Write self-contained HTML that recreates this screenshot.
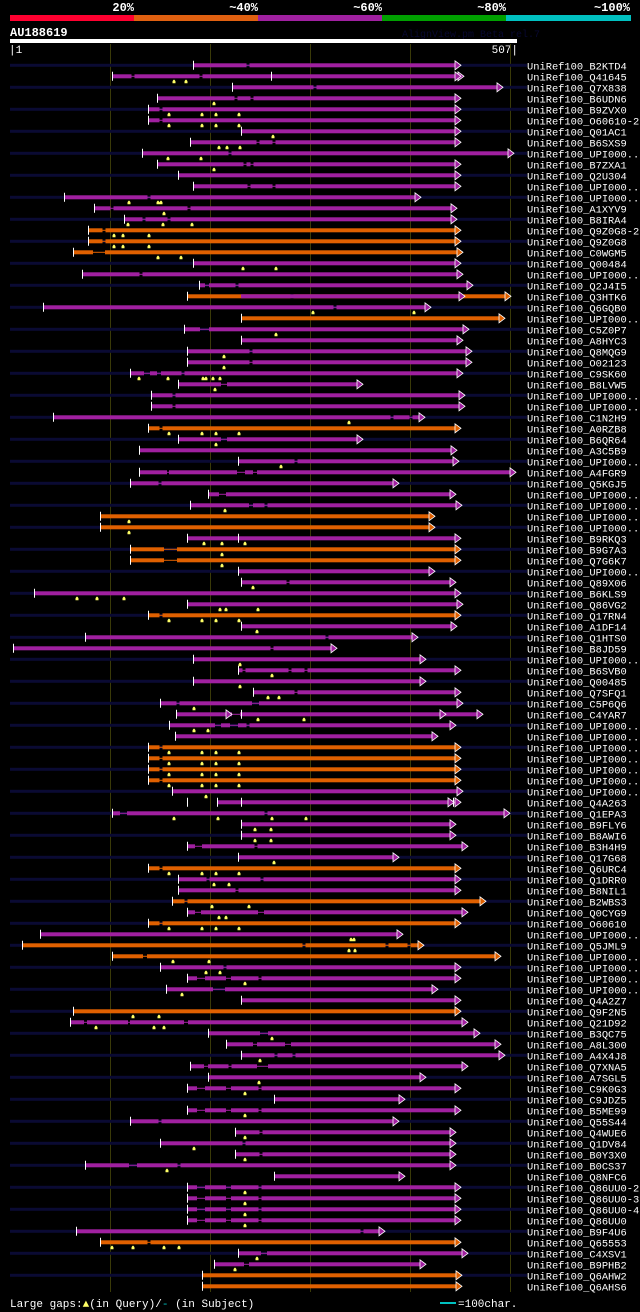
<!DOCTYPE html>
<html><head><meta charset="utf-8"><style>
html,body{margin:0;padding:0;background:#000;}
svg{display:block;}
text{font-family:"Liberation Mono","DejaVu Sans Mono",monospace;}
</style></head><body>
<svg id="chart" width="640" height="1312" viewBox="0 0 640 1312">
  <g>
    <rect x="10" y="15" width="124" height="6" fill="#ff0030"/>
    <rect x="134" y="15" width="124" height="6" fill="#e06010"/>
    <rect x="258" y="15" width="124" height="6" fill="#a020a0"/>
    <rect x="382" y="15" width="124" height="6" fill="#00a000"/>
    <rect x="506" y="15" width="125" height="6" fill="#00c0c0"/>
    <text x="134" y="11" fill="#fff" font-size="12" font-weight="bold" text-anchor="end">20%</text>
    <text x="258" y="11" fill="#fff" font-size="12" font-weight="bold" text-anchor="end">~40%</text>
    <text x="382" y="11" fill="#fff" font-size="12" font-weight="bold" text-anchor="end">~60%</text>
    <text x="506" y="11" fill="#fff" font-size="12" font-weight="bold" text-anchor="end">~80%</text>
    <text x="630" y="11" fill="#fff" font-size="12" font-weight="bold" text-anchor="end">~100%</text>
  </g>
  <text x="10" y="36" fill="#fff" font-size="12" font-weight="bold">AU188619</text>
  <text x="402" y="37" fill="#080830" font-size="10">AlignView.pm Beta rel.7</text>
  <rect x="10" y="39" width="507" height="4" fill="#fff"/>
  <text x="9" y="53" fill="#fff" font-size="11">|1</text>
  <text x="518" y="53" fill="#fff" font-size="11" text-anchor="end">507|</text>
  <g id="grid"></g>
  <g id="rows"></g>
  <text x="10" y="1307" fill="#fff" font-size="11">Large gaps:<tspan fill="#ffff66">▲</tspan>(in Query)/<tspan fill="#00c0c0">-</tspan> (in Subject)</text>
  <rect x="440" y="1302" width="16" height="2" fill="#00c0c0"/>
  <text x="458" y="1307" fill="#fff" font-size="11">=100char.</text>
</svg>
<script>
const names=["B2KTD4","Q41645","Q7X838","B6UDN6","B9ZVX0","O60610-2","Q01AC1","B6SXS9","UPI000..","B7ZXA1","Q2U304","UPI000..","UPI000..","A1XYV9","B8IRA4","Q9Z0G8-2","Q9Z0G8","C0WGM5","Q00484","UPI000..","Q2J4I5","Q3HTK6","Q6GQB0","UPI000..","C5Z0P7","A8HYC3","Q8MQG9","O02123","C9SK60","B8LVW5","UPI000..","UPI000..","C1N2H9","A0RZB8","B6QR64","A3C5B9","UPI000..","A4FGR9","Q5KGJ5","UPI000..","UPI000..","UPI000..","UPI000..","B9RKQ3","B9G7A3","Q7G6K7","UPI000..","Q89X06","B6KLS9","Q86VG2","Q17RN4","A1DF14","Q1HTS0","B8JD59","UPI000..","B6SVB0","Q00485","Q7SFQ1","C5P6Q6","C4YAR7","UPI000..","UPI000..","UPI000..","UPI000..","UPI000..","UPI000..","UPI000..","Q4A263","Q1EPA3","B9FLY6","B8AWI6","B3H4H9","Q17G68","Q6URC4","Q1DRR0","B8NIL1","B2WBS3","Q0CYG9","O60610","UPI000..","Q5JML9","UPI000..","UPI000..","UPI000..","UPI000..","Q4A2Z7","Q9F2N5","Q21D92","B3QC75","A8L300","A4X4J8","Q7XNA5","A7SGL5","C9K0G3","C9JDZ5","B5ME99","Q55S44","Q4WUE6","Q1DV84","B0Y3X0","B0CS37","Q8NFC6","Q86UU0-2","Q86UU0-3","Q86UU0-4","Q86UU0","B9F4U6","Q65553","C4XSV1","B9PHB2","Q6AHW2","Q6AHS6"];
const starts=[183,102,222,147,138,138,231,180,132,147,168,183,54,84,114,78,78,63,183,72,189,177,33,231,174,231,177,177,120,168,141,141,43,138,168,129,228,129,120,198,180,90,90,177,120,120,228,231,24,177,138,231,75,3,183,228,183,243,150,166,159,165,138,138,138,138,162,207,102,231,231,177,228,138,168,168,162,177,138,30,12,102,150,177,156,231,63,60,198,216,231,180,198,177,264,177,120,225,150,225,75,264,177,177,177,177,66,90,228,204,192,192];
const ends=[450,450,492,450,450,450,450,450,503,450,450,450,410,446,446,450,450,452,450,452,462,500,420,494,458,452,461,461,452,352,454,454,414,450,352,446,448,505,388,445,451,424,424,450,450,450,424,445,450,452,450,446,407,326,415,450,415,450,452,472,445,427,450,450,450,450,452,450,499,445,445,457,388,450,450,450,475,457,450,392,413,490,450,450,427,450,450,457,469,490,494,457,415,450,394,450,388,445,445,445,445,394,450,450,450,450,374,450,457,415,451,451];
const orangeRows=[16,17,18,22,24,34,42,43,45,46,51,63,64,65,66,74,77,79,81,82,87,108,111,112];
const breaks=[[[238,238]],[[123,123],[191,191]],[[305,305]],[[226,226],[242,242]],[[151,151]],[[151,151]],[],[[248,248],[264,264]],[[220,220]],[[235,235],[242,242]],[],[[239,239],[264,264]],[[139,139]],[[102,102],[179,179]],[[134,134],[159,159]],[[94,94]],[[94,94]],[[83,95]],[],[[131,131]],[[195,199],[227,227]],[[282,282]],[[325,325]],[],[[190,199]],[],[[241,241]],[[241,241]],[[134,140],[147,151],[173,173]],[[211,217]],[[164,164]],[[164,164]],[[382,382],[401,401]],[[151,151]],[[211,217]],[],[[286,286]],[[157,159],[227,235],[243,247]],[[150,150]],[[209,216]],[[239,243],[256,256]],[],[],[],[[154,167]],[[154,167]],[],[[278,278]],[],[],[[151,151]],[],[[317,317]],[[262,262]],[],[[234,234],[280,280],[296,296]],[],[[286,286]],[[168,168],[242,249]],[[222,230]],[[205,211],[220,228],[238,238]],[],[[151,151]],[[151,151]],[[151,151]],[[151,151]],[],[],[[110,117],[256,256]],[],[],[[185,192],[246,246]],[],[[151,151]],[[198,198],[252,252]],[[227,227]],[[176,176]],[[185,191],[248,254]],[[151,151]],[],[[294,294],[377,377],[399,399]],[[133,137]],[[215,215]],[[187,195],[216,221],[250,250]],[[203,215]],[],[],[[74,77],[118,120],[174,178]],[[250,258]],[[243,247],[275,281]],[[266,266],[284,284]],[[194,198],[220,220],[247,258]],[],[[187,195],[216,221],[250,250]],[],[[187,195],[216,221],[250,250]],[[150,150]],[[251,251]],[[234,234]],[[251,251]],[[119,127],[169,169]],[],[[187,195],[216,221],[250,250]],[[187,195],[216,221],[250,250]],[[187,195],[216,221],[250,250]],[[187,195],[216,221],[250,250]],[[352,352]],[[139,139]],[[251,257]],[[234,239]],[],[]];
const markers=[[],[164,176],[],[204],[159,192,206,229],[159,192,206,229],[263],[209,217,230],[158,191],[204],[],[],[119,148,151],[154],[118,153,182],[104,113,139],[104,113,139],[148,171],[233,266],[],[],[],[303,404],[],[266],[],[214],[214],[129,158,193,196,203,210],[205],[],[],[339],[159,192,206,229],[206],[],[271],[],[],[],[215],[119],[119],[194,212,235],[212],[212],[],[243],[67,87,114],[210,216,248],[159,192,206,229],[247],[],[],[230],[262],[230],[258,269],[184],[248,294],[184,198],[],[159,192,206,229],[159,192,206,229],[159,192,206,229],[159,192,206,229],[196],[],[164,208,262,296],[245,261],[245,261],[],[264],[159,192,206,229],[204,219],[],[202,239],[209,216],[159,192,206,229],[341,344],[339,345],[163,199],[196,210],[235],[172],[],[123,149],[86,144,154],[262],[],[250],[],[249],[235],[],[235],[],[235],[184],[235],[157],[],[235],[235],[235],[235],[],[102,123,154,169],[247],[225],[],[]];
const extraTicks={1:[261],43:[228],59:[231],67:[177,231,443]};
const extraArrows={1:[453],59:[221,435],67:[443]};
const innerSeg={21:[231,450]};
const gridTicks=[100,200,300,400,500];

const NS="http://www.w3.org/2000/svg";
const X0=10, Y0=65.3, DY=11;
function xs(p){return X0+p;}
function ys(i){return Y0+i*DY;}
const COL={m:"#a020a0",o:"#e06000"};
function mk(tag,attrs,parent){const e=document.createElementNS(NS,tag);for(const k in attrs)e.setAttribute(k,attrs[k]);parent.appendChild(e);return e;}

const grid=document.getElementById("grid");
gridTicks.forEach(t=>{
  const l=mk("line",{x1:xs(t)+0.5,x2:xs(t)+0.5,y1:44,y2:1292,stroke:"#3a3a08","stroke-width":1},grid);
  
  
});

const rows=document.getElementById("rows");
function arrow(g,x,y,c){
  const a=mk("polygon",{points:`${x-5},${y-4.5} ${x+1},${y} ${x-5},${y+4.5}`,fill:c,stroke:"#fff","stroke-width":0.8},g);
  
  
}
names.forEach((nm,i)=>{
  const y=ys(i);
  const g=mk("g",{},rows);
  
  
  if(i%2===0){
    const t=mk("rect",{x:10,y:y-1.5,width:517,height:3,fill:"#0a0a33"},g);
    
    
  }
  const c=orangeRows.includes(i+1)?COL.o:COL.m;
  const s=starts[i], e=ends[i];
  let segs=[], cur=s;
  const br=breaks[i].map(b=>b[0]===b[1]?[b[0]-1.5,b[0]+1.5]:b);
  br.forEach(b=>{segs.push([cur,b[0]]);
    const th=mk("rect",{x:xs(b[0]),y:y-0.5,width:b[1]-b[0],height:1,fill:c},g);
    
    
    cur=b[1];});
  segs.push([cur,e-4]);
  segs.forEach(sg=>{
    if(sg[1]<=sg[0])return;
    const r=mk("rect",{x:xs(sg[0]),y:y-2,width:sg[1]-sg[0],height:4,fill:c},g);
    
    
  });
  if(innerSeg[i]){
    const r=mk("rect",{x:xs(innerSeg[i][0]),y:y-2,width:innerSeg[i][1]-innerSeg[i][0],height:4,fill:COL.m},g);
    
    
    arrow(g,xs(innerSeg[i][1]+4),y,COL.m);
  }
  const tk=mk("line",{x1:xs(s)+0.5,x2:xs(s)+0.5,y1:y-4.5,y2:y+4.5,stroke:"#fff","stroke-width":1},g);
  
  
  (extraTicks[i]||[]).forEach(p=>{
    const t2=mk("line",{x1:xs(p)+0.5,x2:xs(p)+0.5,y1:y-4.5,y2:y+4.5,stroke:"#fff","stroke-width":1},g);
    
    
  });
  (extraArrows[i]||[]).forEach(p=>arrow(g,xs(p),y,c));
  arrow(g,xs(e),y,c);
  markers[i].forEach(p=>{
    const m=mk("polygon",{points:`${xs(p)-1.5},${y+7} ${xs(p)-1.5},${y+5} ${xs(p)-0.5},${y+3.5} ${xs(p)+0.5},${y+3.5} ${xs(p)+1.5},${y+5} ${xs(p)+1.5},${y+7}`,fill:"#ffff66"},g);
    
    
  });
  const lb=mk("text",{x:527,y:y+4,fill:"#fff","font-size":10.4},g);
  lb.textContent="UniRef100_"+nm;
  
  
});
</script>
</body></html>
